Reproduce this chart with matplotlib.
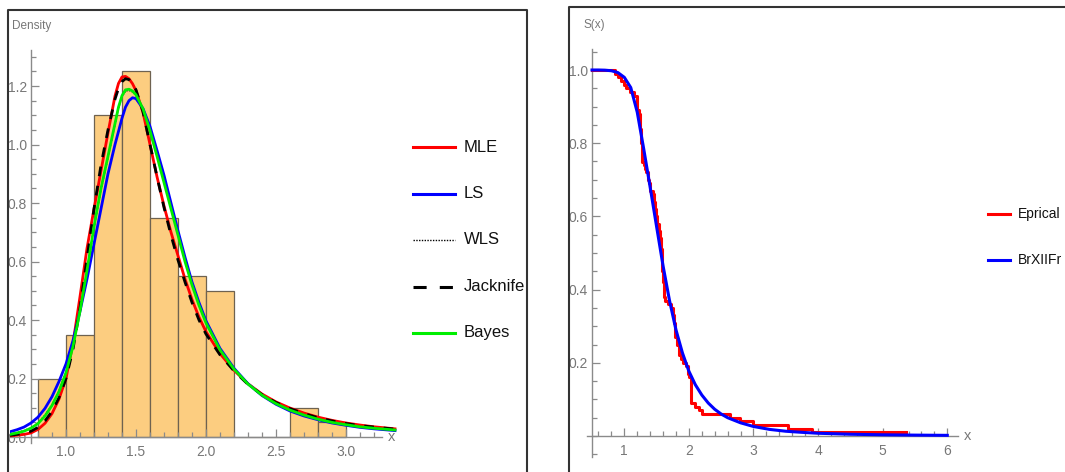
import matplotlib
matplotlib.use("Agg")
import matplotlib.pyplot as plt
from matplotlib.lines import Line2D
from matplotlib.ticker import MultipleLocator, FixedLocator

plt.rcParams['font.family'] = ['Liberation Sans', 'DejaVu Sans']

# ---- left panel: histogram + fitted densities ----
bin_edges = [0.8, 1.0, 1.2, 1.4, 1.6, 1.8, 2.0, 2.2, 2.4, 2.6, 2.8, 3.0]
bin_heights = [0.2, 0.35, 1.1, 1.25, 0.75, 0.55, 0.5, 0.0, 0.0, 0.1, 0.05]

dens_x = [0.6, 0.65, 0.7, 0.75, 0.8, 0.85, 0.9, 0.95, 1.0, 1.05, 1.1, 1.15, 1.2, 1.25,
          1.3, 1.35, 1.375, 1.4, 1.425, 1.45, 1.475, 1.5, 1.55, 1.6, 1.65, 1.7, 1.75,
          1.8, 1.85, 1.9, 1.95, 2.0, 2.1, 2.2, 2.3, 2.4, 2.5, 2.6, 2.7, 2.8, 2.9, 3.0,
          3.1, 3.2, 3.35]
mle = [0.004, 0.006, 0.009, 0.014, 0.026, 0.047, 0.08, 0.13, 0.2, 0.32, 0.48, 0.645, 0.78,
       0.91, 1.04, 1.166, 1.209, 1.231, 1.233, 1.225, 1.208, 1.184, 1.11, 1.0, 0.89, 0.79,
       0.70, 0.62, 0.54, 0.47, 0.41, 0.36, 0.285, 0.228, 0.182, 0.147, 0.12, 0.099, 0.082,
       0.068, 0.057, 0.048, 0.041, 0.035, 0.028]
ls = [0.018, 0.025, 0.034, 0.048, 0.068, 0.098, 0.138, 0.19, 0.25, 0.33, 0.43, 0.54, 0.66,
      0.78, 0.9, 1.0, 1.045, 1.09, 1.128, 1.15, 1.16, 1.157, 1.123, 1.062, 0.98, 0.895,
      0.80, 0.705, 0.615, 0.53, 0.46, 0.397, 0.303, 0.235, 0.182, 0.142, 0.112, 0.089,
      0.072, 0.059, 0.048, 0.04, 0.033, 0.028, 0.022]
wls = [0.01, 0.015, 0.022, 0.032, 0.048, 0.075, 0.11, 0.158, 0.222, 0.31, 0.425, 0.565,
       0.715, 0.845, 0.955, 1.068, 1.124, 1.163, 1.183, 1.185, 1.18, 1.168, 1.118, 1.045,
       0.96, 0.872, 0.782, 0.692, 0.602, 0.522, 0.452, 0.39, 0.298, 0.232, 0.181, 0.143,
       0.114, 0.092, 0.075, 0.061, 0.05, 0.042, 0.035, 0.03, 0.024]
jack = [0.006, 0.009, 0.013, 0.02, 0.033, 0.055, 0.088, 0.135, 0.2, 0.3, 0.44, 0.61, 0.78,
        0.93, 1.05, 1.155, 1.192, 1.215, 1.225, 1.222, 1.209, 1.187, 1.112, 1.0, 0.89,
        0.785, 0.69, 0.605, 0.53, 0.46, 0.4, 0.352, 0.281, 0.226, 0.18, 0.145, 0.118,
        0.097, 0.08, 0.066, 0.055, 0.046, 0.039, 0.034, 0.027]
bayes = [0.009, 0.014, 0.02, 0.03, 0.046, 0.072, 0.108, 0.155, 0.22, 0.31, 0.43, 0.57,
         0.72, 0.85, 0.96, 1.072, 1.128, 1.167, 1.187, 1.189, 1.183, 1.17, 1.122, 1.047,
         0.96, 0.87, 0.78, 0.69, 0.6, 0.52, 0.45, 0.39, 0.298, 0.232, 0.181, 0.143, 0.114,
         0.092, 0.075, 0.061, 0.05, 0.042, 0.035, 0.03, 0.024]
dens_labels = ["MLE", "LS", "WLS", "Jacknife", "Bayes"]

# ---- right panel: empirical vs fitted survival ----
emp_x = [0.86, 0.9, 0.95, 0.99, 1.03, 1.09, 1.15, 1.19, 1.195, 1.2, 1.22, 1.24, 1.25, 1.26,
         1.265, 1.27, 1.275, 1.28, 1.30, 1.32, 1.34, 1.36, 1.38, 1.40, 1.44, 1.46, 1.48,
         1.49, 1.51, 1.53, 1.55, 1.57, 1.58, 1.59, 1.595, 1.61, 1.62, 1.63, 1.68, 1.72,
         1.75, 1.77, 1.78, 1.79, 1.82, 1.84, 1.85, 1.88, 1.91, 1.96, 1.99, 2.0, 2.04, 2.09,
         2.15, 2.2, 2.64, 2.79, 2.99, 3.54, 3.9]
emp_s = [0.99, 0.98, 0.97, 0.96, 0.95, 0.94, 0.93, 0.91, 0.90, 0.89, 0.88, 0.86, 0.84, 0.82,
         0.80, 0.78, 0.76, 0.75, 0.74, 0.73, 0.72, 0.70, 0.69, 0.67, 0.66, 0.64, 0.62, 0.60,
         0.58, 0.56, 0.54, 0.51, 0.48, 0.45, 0.42, 0.40, 0.38, 0.37, 0.36, 0.35, 0.33, 0.31,
         0.29, 0.27, 0.25, 0.23, 0.22, 0.21, 0.20, 0.19, 0.17, 0.16, 0.09, 0.08, 0.07, 0.06,
         0.05, 0.04, 0.03, 0.02, 0.01]
emp_start = 0.5
emp_end = 5.36

surv_x = [0.5, 0.6, 0.7, 0.8, 0.9, 1.0, 1.1, 1.2, 1.3, 1.4, 1.5, 1.6, 1.7, 1.8, 1.9, 2.0,
          2.1, 2.2, 2.3, 2.4, 2.5, 2.6, 2.8, 3.0, 3.25, 3.5, 3.75, 4.0, 4.5, 5.0, 5.5, 6.0]
surv_s = [1.0, 1.0, 0.9995, 0.998, 0.993, 0.98, 0.952, 0.885, 0.785, 0.68, 0.572, 0.465,
          0.37, 0.29, 0.227, 0.177, 0.14, 0.112, 0.09, 0.073, 0.06, 0.05, 0.036, 0.026,
          0.018, 0.013, 0.01, 0.0075, 0.0048, 0.0033, 0.0024, 0.0018]
surv_labels = ["Eprical", "BrXIIFr"]

W, H = 1065, 472
fig = plt.figure(figsize=(W / 100, H / 100), dpi=100)


def px_axes(x0, x1, y0, y1):
    return fig.add_axes([x0 / W, 1 - y1 / H, (x1 - x0) / W, (y1 - y0) / H])


def fig_line(xs, ys, **kw):
    fig.add_artist(Line2D([x / W for x in xs], [1 - y / H for y in ys],
                          transform=fig.transFigure, **kw))


AX_C = '#8a8a8a'
TXT_C = '#777777'


def style_axes(ax, yorig, ybounds, xbounds):
    for s in ['top', 'right']:
        ax.spines[s].set_visible(False)
    ax.spines['left'].set_position(('data', yorig))
    ax.spines['bottom'].set_position(('data', 0))
    ax.spines['left'].set_bounds(*ybounds)
    ax.spines['bottom'].set_bounds(*xbounds)
    for s in ['left', 'bottom']:
        ax.spines[s].set_color(AX_C)
        ax.spines[s].set_linewidth(1.0)
    ax.tick_params(which='both', direction='in', color=AX_C, labelcolor=TXT_C,
                   labelsize=10, width=0.9)
    ax.tick_params(which='major', length=6)
    ax.tick_params(which='minor', length=3.5)
    ax.tick_params(axis='x', pad=6)
    ax.tick_params(axis='y', pad=3)
    ax.patch.set_alpha(0)


# left axes: x=0.75 -> px 31, 140 px/unit ; y=0 -> px 437, 292.5 px/unit
axL = px_axes(10, 404.8, 48.0, 445.8)
axL.set_xlim(0.6, 3.42)
axL.set_ylim(-0.03, 1.33)
widths = [bin_edges[i + 1] - bin_edges[i] for i in range(len(bin_heights))]
axL.bar(bin_edges[:-1], bin_heights, width=widths, align='edge', color='#fccd80',
        edgecolor='#6e6250', linewidth=0.9, zorder=1)
lw = 2.0
axL.plot(dens_x, mle, color='#ff0000', lw=lw, zorder=3)
axL.plot(dens_x, ls, color='#0000ff', lw=lw, zorder=3)
axL.plot(dens_x, wls, color='black', lw=1.0, ls=(0, (1, 1)), zorder=3)
axL.plot(dens_x, jack, color='black', lw=lw, ls=(0, (3.5, 3.5)), zorder=3)
axL.plot(dens_x, bayes, color='#00ee00', lw=lw, zorder=4)
style_axes(axL, 0.75, (-0.02, 1.323), (0.6, 3.26))
axL.xaxis.set_major_locator(FixedLocator([1.0, 1.5, 2.0, 2.5, 3.0]))
axL.xaxis.set_minor_locator(FixedLocator([0.8 + 0.1 * i for i in range(25)]))
axL.yaxis.set_major_locator(FixedLocator([0.0, 0.2, 0.4, 0.6, 0.8, 1.0, 1.2]))
axL.yaxis.set_minor_locator(MultipleLocator(0.05))
axL.xaxis.set_major_formatter(plt.FuncFormatter(lambda v, p: f"{v:.1f}"))
axL.yaxis.set_major_formatter(plt.FuncFormatter(lambda v, p: f"{v:.1f}"))
axL.text(3.30, 0, "x", color=TXT_C, fontsize=10.5, ha='left', va='center')
fig.text(12 / W, 1 - 26 / H, "Density", color=TXT_C, fontsize=8.5, ha='left', va='center')

# right axes: x=0.5 -> px 592, 64.6 px/unit ; y=0 -> px 436, 366 px/unit
axR = px_axes(585.54, 969.9, 48.04, 457.96)
axR.set_xlim(0.4, 6.35)
axR.set_ylim(-0.06, 1.06)
ex = [emp_start] + emp_x + [emp_end]
es = [1.0] + emp_s + [emp_s[-1]]
axR.step(ex, es, where='post', color='#ff0000', lw=2.2, zorder=3)
axR.plot(surv_x, surv_s, color='#0000ff', lw=2.2, zorder=4)
style_axes(axR, 0.5, (-0.058, 1.057), (0.42, 6.17))
axR.xaxis.set_major_locator(FixedLocator([1, 2, 3, 4, 5, 6]))
axR.xaxis.set_minor_locator(FixedLocator([0.6 + 0.2 * i for i in range(28)]))
axR.yaxis.set_major_locator(FixedLocator([0.2, 0.4, 0.6, 0.8, 1.0]))
axR.yaxis.set_minor_locator(MultipleLocator(0.05))
axR.xaxis.set_major_formatter(plt.FuncFormatter(lambda v, p: f"{v:.0f}"))
axR.yaxis.set_major_formatter(plt.FuncFormatter(lambda v, p: f"{v:.1f}"))
axR.text(6.25, 0, "x", color=TXT_C, fontsize=10.5, ha='left', va='center')
fig.text(583 / W, 1 - 25 / H, "S(x)", color=TXT_C, fontsize=8.5, ha='left', va='center')

# legends (drawn by hand at fixed pixel spots)
leg_styles = [dict(color='#ff0000', lw=2.2), dict(color='#0000ff', lw=2.2),
              dict(color='black', lw=1.0, ls=(0, (1, 1))),
              dict(color='black', lw=2.2, ls=(0, (4.3, 4.3))),
              dict(color='#00ee00', lw=2.2)]
for i, (lab, st) in enumerate(zip(dens_labels, leg_styles)):
    yy = 147 + 46.5 * i
    fig_line([413, 455], [yy, yy], **st)
    fig.text(464 / W, 1 - yy / H, lab, fontsize=12, ha='left', va='center', color='#111111')

for i, (lab, c) in enumerate(zip(surv_labels, ['#ff0000', '#0000ff'])):
    yy = 214 + 46 * i
    fig_line([988, 1010], [yy, yy], color=c, lw=2.2)
    fig.text(1018 / W, 1 - yy / H, lab, fontsize=10, ha='left', va='center', color='#111111')

# panel frames
FR = dict(color='#333333', lw=1.5)
fig_line([8, 8, 527, 527], [472, 10, 10, 472], **FR)
fig_line([569, 569, 1065], [472, 7, 7], **FR)

fig.savefig("out.png", dpi=100)
